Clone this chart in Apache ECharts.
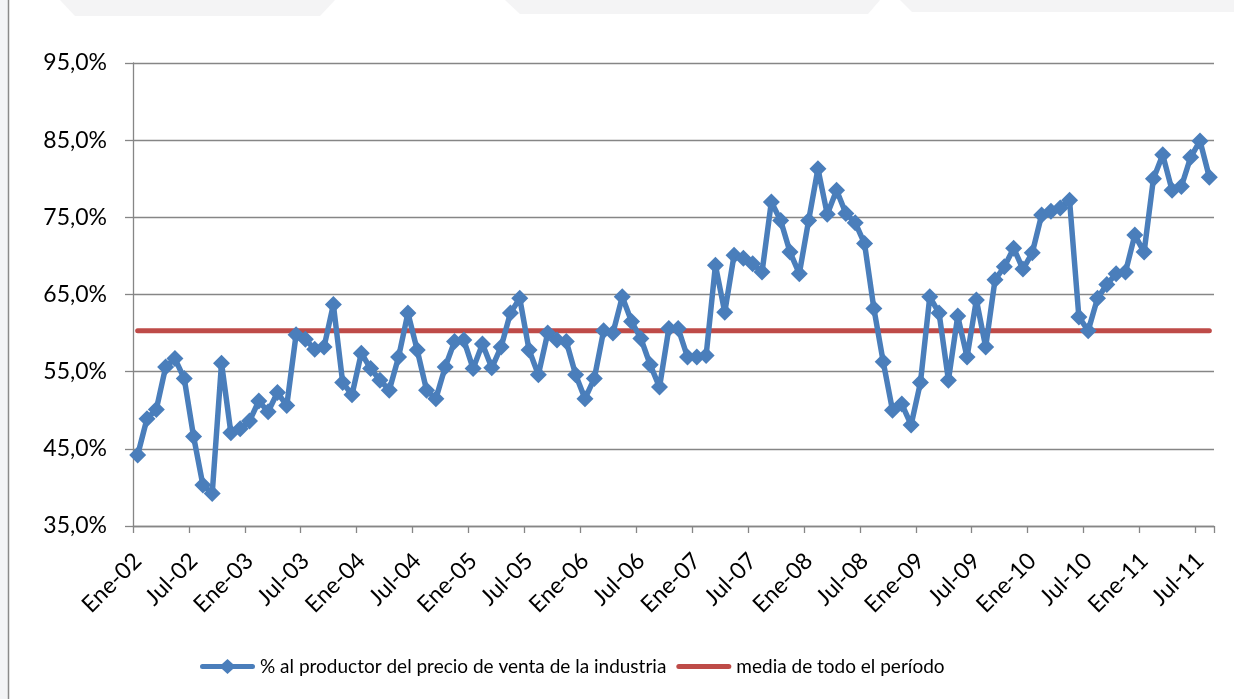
<!DOCTYPE html>
<html>
<head>
<meta charset="utf-8">
<title>% al productor del precio de venta de la industria</title>
<script src="https://cdn.jsdelivr.net/npm/echarts@6/dist/echarts.min.js"></script>
<style>
  html, body { margin: 0; padding: 0; background: #ffffff; }
  #chart { width: 1234px; height: 699px; }
</style>
</head>
<body>
<div id="chart"></div>
<script>
// Month abbreviations and years used for the category labels (Ene-02 ... Ago-11)
const meses = ['Ene', 'Feb', 'Mar', 'Abr', 'May', 'Jun', 'Jul', 'Ago', 'Sep', 'Oct', 'Nov', 'Dic'];
const anios = ['02', '03', '04', '05', '06', '07', '08', '09', '10', '11'];
const ultimoMes = 8; // last month shown in 2011 (Ago)

// Monthly share (%) received by the producer out of the industry selling price
const porcentajeProductor = [
  44.2, 48.9, 50.1, 55.6, 56.7, 54.1, 46.6, 40.3, 39.2, 56.1, 47.1, 47.6,
  48.6, 51.2, 49.8, 52.3, 50.6, 59.8, 59.2, 57.9, 58.2, 63.7, 53.6, 52.0,
  57.4, 55.4, 53.9, 52.6, 56.9, 62.6, 57.8, 52.6, 51.5, 55.6, 58.9, 59.1,
  55.4, 58.6, 55.5, 58.2, 62.6, 64.5, 57.8, 54.6, 60.0, 59.1, 58.9, 54.6,
  51.5, 54.1, 60.3, 60.0, 64.7, 61.5, 59.3, 55.9, 53.0, 60.6, 60.6, 56.9,
  56.9, 57.1, 68.8, 62.7, 70.1, 69.7, 69.0, 67.9, 77.0, 74.6, 70.5, 67.7,
  74.6, 81.3, 75.4, 78.5, 75.5, 74.3, 71.6, 63.2, 56.3, 50.0, 50.8, 48.1,
  53.6, 64.7, 62.6, 53.9, 62.2, 56.9, 64.3, 58.2, 66.9, 68.6, 71.0, 68.3,
  70.4, 75.3, 75.8, 76.2, 77.2, 62.1, 60.3, 64.5, 66.3, 67.7, 67.9, 72.7,
  70.5, 80.0, 83.1, 78.5, 79.0, 82.8, 84.9, 80.2
];

// Average over the whole period
const mediaPeriodo = 60.3;

// Value axis ticks
const ejeMin = 35;
const ejeMax = 95;
const ejePaso = 10;

const categorias = [];
anios.forEach(function (a, k) {
  const n = (k === anios.length - 1) ? ultimoMes : meses.length;
  for (let m = 0; m < n; m++) categorias.push(meses[m] + '-' + a);
});

const fuente = 'Lato, "Open Sans", sans-serif';
const gris = '#868686';
const azul = '#4A7EBB';
const rojo = '#BE4B48';

const nombreSerie = '% al productor del precio de venta de la industria';
const nombreMedia = 'media de todo el período';

// legend icons: thick rounded bar, with a diamond in the middle for the monthly series
const iconoSerie = 'path://M2.5,5 L22,5 L27.5,0 L33,5 L52.5,5 A2.5,2.5 0 0 1 52.5,10 L33,10 L27.5,15 L22,10 L2.5,10 A2.5,2.5 0 0 1 2.5,5 Z';
const iconoMedia = 'path://M2.5,0 L52.5,0 A2.5,2.5 0 0 1 52.5,5 L2.5,5 A2.5,2.5 0 0 1 2.5,0 Z';

const chart = echarts.init(document.getElementById('chart'), null, { renderer: 'canvas' });

chart.setOption({
  animation: false,
  backgroundColor: '#ffffff',
  textStyle: { fontFamily: fuente },
  graphic: [
    // slide frame around the chart
    { type: 'rect', shape: { x: 0, y: 0, width: 8, height: 699 }, style: { fill: '#f3f4f6' }, silent: true },
    { type: 'line', shape: { x1: 8.5, y1: 0, x2: 8.5, y2: 699 }, style: { stroke: '#8a8a8a', lineWidth: 1.5 }, silent: true },
    { type: 'polygon', shape: { points: [[60, 0], [335, 0], [320, 16], [75, 16]] }, style: { fill: '#f4f4f5' }, silent: true },
    { type: 'polygon', shape: { points: [[505, 0], [880, 0], [868, 14], [520, 14]] }, style: { fill: '#f4f4f5' }, silent: true },
    { type: 'polygon', shape: { points: [[900, 0], [1234, 0], [1234, 12], [912, 12]] }, style: { fill: '#f4f4f5' }, silent: true }
  ],
  grid: { left: 133, right: 20, top: 63, bottom: 173, containLabel: false },
  legend: {
    left: 195,
    top: 652,
    itemWidth: 55,
    itemHeight: 15,
    itemGap: 10,
    textStyle: { fontFamily: fuente, fontSize: 19, color: '#000000' },
    data: [
      { name: nombreSerie, icon: iconoSerie },
      { name: nombreMedia, icon: iconoMedia }
    ]
  },
  xAxis: {
    type: 'category',
    data: categorias,
    boundaryGap: true,
    axisLine: { show: true, lineStyle: { color: gris, width: 1.3 } },
    axisTick: { show: true, interval: 5, length: 7, lineStyle: { color: gris, width: 1.3 } },
    axisLabel: {
      interval: 5,
      rotate: 45,
      margin: 31,
      fontFamily: fuente,
      fontSize: 23,
      color: '#000000'
    },
    splitLine: { show: false }
  },
  yAxis: {
    type: 'value',
    min: ejeMin,
    max: ejeMax,
    interval: ejePaso,
    axisLine: { show: true, lineStyle: { color: gris, width: 1.3 } },
    axisTick: { show: true, length: 8, lineStyle: { color: gris, width: 1.3 } },
    axisLabel: {
      margin: 26,
      fontFamily: fuente,
      fontSize: 23,
      color: '#000000',
      formatter: function (v) { return v.toFixed(1).replace('.', ',') + '%'; }
    },
    splitLine: { show: true, lineStyle: { color: gris, width: 1.3 } }
  },
  series: [
    {
      name: nombreMedia,
      type: 'line',
      data: [[categorias[0], mediaPeriodo], [categorias[categorias.length - 1], mediaPeriodo]],
      symbol: 'none',
      z: 2,
      lineStyle: { color: rojo, width: 5, cap: 'round' },
      itemStyle: { color: rojo }
    },
    {
      name: nombreSerie,
      type: 'line',
      data: porcentajeProductor,
      symbol: 'diamond',
      symbolSize: 17,
      showAllSymbol: true,
      z: 3,
      lineStyle: { color: azul, width: 5.5, join: 'round' },
      itemStyle: { color: azul }
    }
  ]
});
</script>
</body>
</html>
